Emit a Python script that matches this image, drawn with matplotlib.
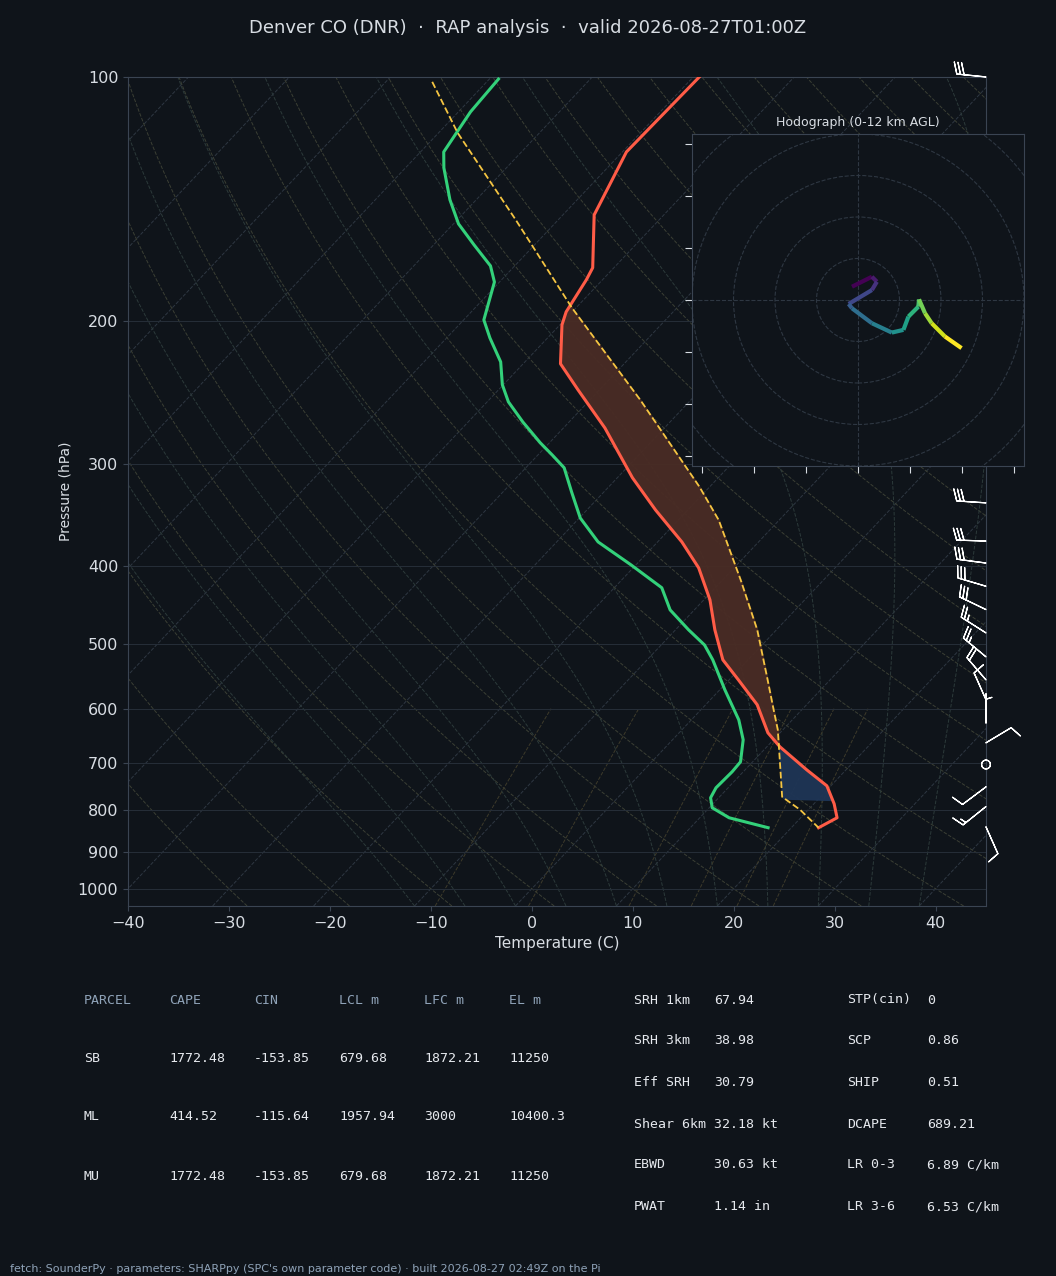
import numpy as np
import matplotlib
matplotlib.use("Agg")
import matplotlib.pyplot as plt
from matplotlib.collections import LineCollection
import matplotlib.transforms as mtrans

# ---------------- data ----------------
temp_p = [100, 123.7, 147.9, 171.8, 177.8, 194.7, 202, 225.6, 243, 270.6, 311.7, 341.5, 373.9, 402.5,
          440.6, 479.8, 522.4, 552.8, 593.3, 642.6, 668.6, 713.6, 746.8, 785.8, 817.6, 841]
temp_c = [-59.4, -59.6, -56.9, -52.1, -51.6, -50.6, -49.8, -46.3, -42.1, -35.9, -28.5, -23.2, -17.6, -13.5,
          -9.4, -6.1, -2.5, 0.9, 5.1, 8.8, 11.3, 16.1, 19.6, 22.0, 23.6, 22.7]
dew_p = [100.6, 110.4, 123.7, 129.4, 141.7, 151.7, 161, 170.9, 178.9, 199.2, 209.7, 224.4, 239.4, 251.3,
         266, 282.3, 292.1, 303, 324.5, 349.4, 373.9, 399, 425.8, 453.4, 479.8, 500.9, 522.4, 568.7,
         619.4, 655.4, 697.7, 717.7, 751, 772.6, 794.8, 817.6, 841]
dew_c = [-79.1, -78.8, -77.7, -76.2, -72.6, -69.5, -66.0, -62.4, -60.5, -58.0, -55.7, -52.4, -50.1, -47.9,
         -44.6, -40.9, -38.6, -36.2, -33.2, -29.9, -25.9, -20.5, -15.3, -12.4, -8.7, -5.7, -3.5, 0.5,
         4.7, 7.0, 8.8, 8.9, 8.8, 9.2, 10.3, 12.9, 17.7]
parcel_p = [101.4, 117.2, 150, 192.5, 250, 319.9, 351.4, 416.6, 479.8, 552.8, 601.8, 637.2,
            693.7, 770.5, 799.4, 841]
parcel_c = [-85.4, -78.1, -64.2, -50.4, -35.0, -21.0, -16.0, -8.2, -1.9, 3.8, 7.2, 9.5,
            12.5, 16.2, 19.2, 22.7]

hodo_u = [-2.9, 6.7, 9.1, 6.7, -4.5, -2.9, 6.7, 16.3, 21.9, 24.3, 29.1, 29.4, 32.3, 35.5, 41.9, 49.9]
hodo_v = [6.4, 11.2, 8.8, 4.8, -1.9, -4.0, -11.2, -15.7, -14.4, -8.0, -3.2, 0.3, -6.4, -11.2, -17.6, -23.2]

barb_p = [100, 334.7, 373, 397, 424, 453, 484, 518, 553, 585, 625, 661, 703, 749, 792, 839]
barb_u = [30, 30, 30, 30, 27, 25, 22, 18, 12, 4, 0, -10, 0, 8, 10, -4]
barb_v = [-3, -2, -1, -4, -8, -12, -14, -15, -14, -9, -4, -6, 0, 6, 8, 9]

table_hdr = ["PARCEL", "CAPE", "CIN", "LCL m", "LFC m", "EL m"]
table_rows = [["SB", "1772.48", "-153.85", "679.68", "1872.21", "11250"],
              ["ML", "414.52", "-115.64", "1957.94", "3000", "10400.3"],
              ["MU", "1772.48", "-153.85", "679.68", "1872.21", "11250"]]
idx1 = [("SRH 1km", "67.94"), ("SRH 3km", "38.98"), ("Eff SRH", "30.79"),
        ("Shear 6km", "32.18 kt"), ("EBWD", "30.63 kt"), ("PWAT", "1.14 in")]
idx2 = [("STP(cin)", "0"), ("SCP", "0.86"), ("SHIP", "0.51"), ("DCAPE", "689.21"),
        ("LR 0-3", "6.89 C/km"), ("LR 3-6", "6.53 C/km")]

SKEW = 76.0
BG = "#0f141a"
SP = "#3a4452"
TXT = "#d8dde3"

def sx(t, p):
    return np.asarray(t) + SKEW * np.log10(1000.0 / np.asarray(p))

fig = plt.figure(figsize=(10.56, 12.76), dpi=100, facecolor=BG)
ax = fig.add_axes([0.1212, 0.29, 0.8125, 0.6497], facecolor=BG)
ax.set_yscale("log")
ax.set_ylim(1050, 100)
ax.set_xlim(-40, 45)

pp = np.logspace(np.log10(1050), 2, 200)
for t0 in range(-160, 60, 10):
    ax.plot(sx(t0, pp), pp, color="#2e3742", lw=0.7, ls="--", zorder=1)
for th in range(-30, 220, 10):
    t = (th + 273.15) * (pp / 1000.0) ** 0.2857 - 273.15
    ax.plot(sx(t, pp), pp, color="#3b3f34", lw=0.7, ls="--", zorder=1)
def moist(t0):
    ps = np.linspace(1050, 100, 400)
    T = t0 + 273.15
    out = []
    for i, p in enumerate(ps):
        out.append(T - 273.15)
        if i + 1 < len(ps):
            es = 6.112 * np.exp(17.67 * (T - 273.15) / (T - 29.65))
            rs = 0.622 * es / (p - es)
            L = 2.5e6
            g = (287 * T + L * rs) / (1004 + L * L * rs * 0.622 / (287 * T * T))
            dp = ps[i + 1] - p
            T = T + g * dp / p
    return ps, np.array(out)
for t0 in range(-10, 45, 5):
    ps, T = moist(t0)
    ax.plot(sx(T, ps), ps, color="#2c3a3a", lw=0.7, ls="--", zorder=1)
pm = np.linspace(1050, 600, 50)
for w in [2, 4, 8, 12, 16, 20]:
    e = pm * w / 1000.0 / (0.622 + w / 1000.0)
    td = 243.5 * np.log(e / 6.112) / (17.67 - np.log(e / 6.112))
    ax.plot(sx(td, pm), pm, color="#3d3a2a", lw=0.7, ls="--", zorder=1)
for p in [100, 200, 300, 400, 500, 600, 700, 800, 900, 1000]:
    ax.axhline(p, color="#262e38", lw=0.7, zorder=1)

grid = np.logspace(np.log10(841), np.log10(175), 400)
lg = np.log10(grid)
ti = np.interp(lg[::-1], np.log10(temp_p), sx(temp_c, temp_p))[::-1]
pi_ = np.interp(lg[::-1], np.log10(parcel_p), sx(parcel_c, parcel_p))[::-1]
ax.fill_betweenx(grid, ti, pi_, where=(pi_ > ti) & (grid < 680), color="#4a2c25", alpha=0.95, zorder=2, interpolate=True)
ax.fill_betweenx(grid, ti, pi_, where=(pi_ < ti) & (grid < 775) & (grid > 640), color="#1e3556", alpha=0.95, zorder=2, interpolate=True)

ax.plot(sx(temp_c, temp_p), temp_p, color="#ff5c47", lw=2.2, zorder=4)
ax.plot(sx(dew_c, dew_p), dew_p, color="#33d17a", lw=2.2, zorder=4)
ax.plot(sx(parcel_c, parcel_p), parcel_p, color="#f5c542", lw=1.3, ls="--", zorder=4)

ax.set_yticks([100, 200, 300, 400, 500, 600, 700, 800, 900, 1000])
ax.set_yticklabels([str(v) for v in [100, 200, 300, 400, 500, 600, 700, 800, 900, 1000]])
ax.yaxis.set_minor_locator(matplotlib.ticker.NullLocator())
ax.set_xticks(range(-40, 50, 10))
ax.set_xticklabels(["\u2212%d" % -v if v < 0 else str(v) for v in range(-40, 50, 10)])
ax.tick_params(colors=TXT, labelsize=11.5, color=SP)
for s in ax.spines.values():
    s.set_color(SP)
ax.set_xlabel("Temperature (C)", color=TXT, fontsize=11)
ax.set_ylabel("Pressure (hPa)", color=TXT, fontsize=10)

trans = mtrans.blended_transform_factory(ax.transAxes, ax.transData)
ax.barbs(np.ones(len(barb_p)), barb_p, barb_u, barb_v, transform=trans, color="white",
         length=6.5, linewidth=0.9, clip_on=False, zorder=5)

fig.text(0.5, 0.978, "Denver CO (DNR)  \u00b7  RAP analysis  \u00b7  valid 2026-08-27T01:00Z",
         ha="center", va="center", color=TXT, fontsize=13)

hx = fig.add_axes([0.6553, 0.6348, 0.3144, 0.2602], facecolor=BG)
hx.set_xlim(-80, 80); hx.set_ylim(-80, 80)
for r in [20, 40, 60, 80, 100]:
    hx.add_patch(plt.Circle((0, 0), r, fill=False, color="#2e3742", ls="--", lw=0.8))
hx.axhline(0, color="#2e3742", ls="--", lw=0.8)
hx.axvline(0, color="#2e3742", ls="--", lw=0.8)
pts = np.array([hodo_u, hodo_v]).T.reshape(-1, 1, 2)
segs = np.concatenate([pts[:-1], pts[1:]], axis=1)
lc = LineCollection(segs, cmap="viridis", linewidths=3)
lc.set_array(np.arange(len(segs)))
hx.add_collection(lc)
hx.set_xticks(range(-75, 100, 25)); hx.set_yticks(range(-75, 100, 25))
hx.set_xticklabels([]); hx.set_yticklabels([])
hx.tick_params(color=TXT, length=5)
for s in hx.spines.values():
    s.set_color(SP)
hx.set_title("Hodograph (0-12 km AGL)", color=TXT, fontsize=9, pad=6)

mono = "DejaVu Sans Mono"
HC = "#8fa3b8"
W = 1056.0; H = 1276.0
colx = [84, 169, 254, 339, 424, 509]
for j, h in enumerate(table_hdr):
    fig.text(colx[j] / W, 1 - 1000 / H, h, color=HC, family=mono, fontsize=9.5, va="center")
for i, row in enumerate(table_rows):
    y = [1058, 1117, 1176][i]
    for j, v in enumerate(row):
        fig.text(colx[j] / W, 1 - y / H, v, color="#e6e9ee", family=mono, fontsize=9.5, va="center")
rowy = [1000, 1041, 1082, 1124, 1165, 1207]
for i, (k, v) in enumerate(idx1):
    fig.text(634 / W, 1 - rowy[i] / H, k, color="#e6e9ee", family=mono, fontsize=9.5, va="center")
    fig.text(714 / W, 1 - rowy[i] / H, v, color="#e6e9ee", family=mono, fontsize=9.5, va="center")
for i, (k, v) in enumerate(idx2):
    fig.text(847 / W, 1 - rowy[i] / H, k, color="#e6e9ee", family=mono, fontsize=9.5, va="center")
    fig.text(927 / W, 1 - rowy[i] / H, v, color="#e6e9ee", family=mono, fontsize=9.5, va="center")

fig.text(10 / W, 1 - 1269 / H, "fetch: SounderPy \u00b7 parameters: SHARPpy (SPC's own parameter code) \u00b7 built 2026-08-27 02:49Z on the Pi",
         color=HC, fontsize=8, va="center")

fig.savefig("out.png", dpi=100, facecolor=BG)
